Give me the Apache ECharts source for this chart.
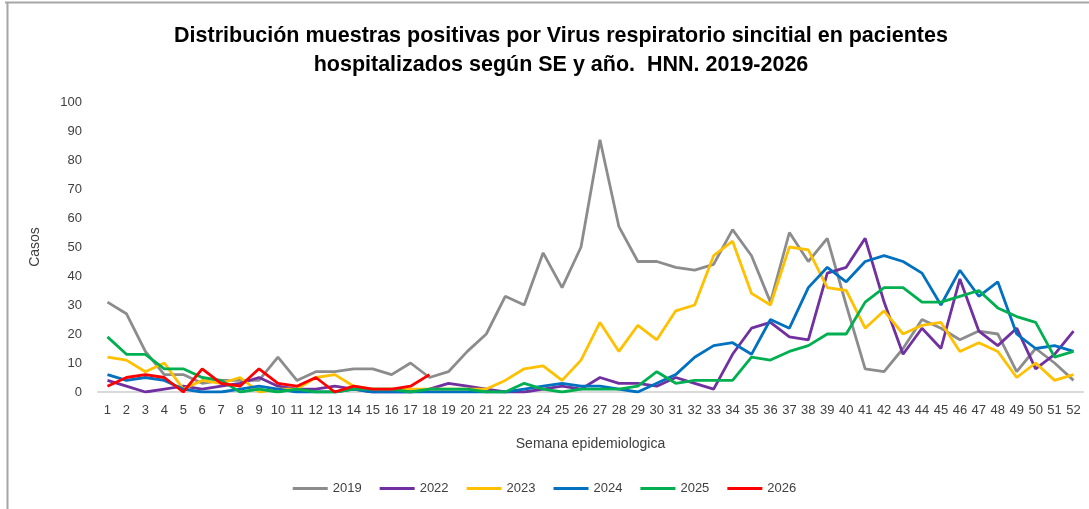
<!DOCTYPE html>
<html>
<head>
<meta charset="utf-8">
<script src="https://cdn.jsdelivr.net/npm/echarts@6/dist/echarts.min.js"></script>
<style>
    html, body {margin: 0; padding: 0; background: #fff;}
    #main {width: 1089px; height: 509px;}
</style>
</head>
<body>
<div id="main"></div>
<script>
var semanas = [];
for (var i = 1; i <= 52; i++) semanas.push(String(i));

var yTicks = [0, 10, 20, 30, 40, 50, 60, 70, 80, 90, 100];

var anio2019 = [31, 27, 14, 6, 6, 3, 4, 4, 4, 12, 4, 7, 7, 8, 8, 6, 10, 5, 7, 14,
    20, 33, 30, 48, 36, 50, 87, 57, 45, 45, 43, 42, 44, 56, 47, 31, 55, 45, 53, 30,
    8, 7, 15, 25, 22, 18, 21, 20, 7, 15, 10, 4];
var anio2022 = [4, 2, 0, 1, 2, 1, 2, 3, 5, 2, 1, 1, 2, 1, 0, 0, 0, 1, 3, 2,
    1, 0, 0, 1, 2, 1, 5, 3, 3, 2, 5, 3, 1, 13, 22, 24, 19, 18, 41, 43,
    53, 31, 13, 22, 15, 39, 21, 16, 22, 8, 13, 21];
var anio2023 = [12, 11, 7, 10, 1, 4, 3, 5, 0, 1, 1, 5, 6, 2, 1, 1, 1, 1, 1, 1,
    1, 4, 8, 9, 4, 11, 24, 14, 23, 18, 28, 30, 47, 52, 34, 30, 50, 49, 36, 35,
    22, 28, 20, 23, 24, 14, 17, 14, 5, 10, 4, 6];
var anio2024 = [6, 4, 5, 4, 1, 0, 0, 1, 2, 1, 0, 0, 0, 1, 0, 0, 0, 0, 0, 0,
    0, 0, 1, 2, 3, 2, 2, 1, 0, 3, 6, 12, 16, 17, 13, 25, 22, 36, 43, 38,
    45, 47, 45, 41, 30, 42, 33, 38, 20, 15, 16, 14];
var anio2025 = [19, 13, 13, 8, 8, 5, 4, 0, 1, 0, 1, 0, 0, 1, 1, 1, 0, 1, 1, 1,
    0, 0, 3, 1, 0, 1, 1, 1, 2, 7, 3, 4, 4, 4, 12, 11, 14, 16, 20, 20,
    31, 36, 36, 31, 31, 33, 35, 29, 26, 24, 12, 14];
var anio2026 = [2, 5, 6, 5, 0, 8, 3, 2, 8, 3, 2, 5, 0, 2, 1, 1, 2, 6];

var fuente = "'Liberation Sans', Arial, sans-serif";

function serie(nombre, datos, color) {
    return {
        name: nombre,
        type: 'line',
        data: datos,
        symbol: 'none',
        lineStyle: {color: color, width: 2.8},
        itemStyle: {color: color},
        animation: false
    };
}

var myChart = echarts.init(document.getElementById('main'));
var option = {
    backgroundColor: '#fff',
    title: {
        text: 'Distribución muestras positivas por Virus respiratorio sincitial en pacientes\nhospitalizados según SE y año.  HNN. 2019-2026',
        left: 556,
        textAlign: 'center',
        top: 17,
        textStyle: {fontFamily: fuente, fontSize: 21.5, fontWeight: 'bold', color: '#000', lineHeight: 29}
    },
    legend: {
        bottom: 9,
        left: 'center',
        icon: 'rect',
        itemWidth: 35,
        itemHeight: 3,
        itemGap: 18,
        textStyle: {fontFamily: fuente, fontSize: 13, color: '#404040'},
        data: ['2019', '2022', '2023', '2024', '2025', '2026']
    },
    grid: {left: 98, right: 6, top: 102, bottom: 117, containLabel: false},
    xAxis: {
        type: 'category',
        data: semanas,
        boundaryGap: true,
        name: 'Semana epidemiologica',
        nameLocation: 'middle',
        nameGap: 45,
        nameTextStyle: {fontFamily: fuente, fontSize: 14, color: '#404040'},
        axisLine: {lineStyle: {color: '#d9d9d9', width: 2}},
        axisTick: {show: false},
        axisLabel: {interval: 0, fontFamily: fuente, fontSize: 13, color: '#404040', margin: 12}
    },
    yAxis: {
        type: 'value',
        min: yTicks[0],
        max: yTicks[yTicks.length - 1],
        interval: 10,
        name: 'Casos',
        nameLocation: 'middle',
        nameRotate: 90,
        nameGap: 56,
        nameTextStyle: {fontFamily: fuente, fontSize: 14, color: '#404040'},
        axisLine: {show: false},
        axisTick: {show: false},
        splitLine: {show: false},
        axisLabel: {fontFamily: fuente, fontSize: 13, color: '#404040', margin: 16}
    },
    graphic: [
        {type: 'line', shape: {x1: 5, y1: 2.5, x2: 1089, y2: 2.5}, style: {stroke: '#a6a6a6', lineWidth: 2}, silent: true},
        {type: 'line', shape: {x1: 7.5, y1: 2, x2: 7.5, y2: 509}, style: {stroke: '#a6a6a6', lineWidth: 2}, silent: true}
    ],
    series: [
        serie('2019', anio2019, '#8c8c8c'),
        serie('2022', anio2022, '#7030a0'),
        serie('2023', anio2023, '#ffc000'),
        serie('2024', anio2024, '#0070c0'),
        serie('2025', anio2025, '#00b050'),
        serie('2026', anio2026, '#ff0000')
    ]
};
myChart.setOption(option);
</script>
</body>
</html>
